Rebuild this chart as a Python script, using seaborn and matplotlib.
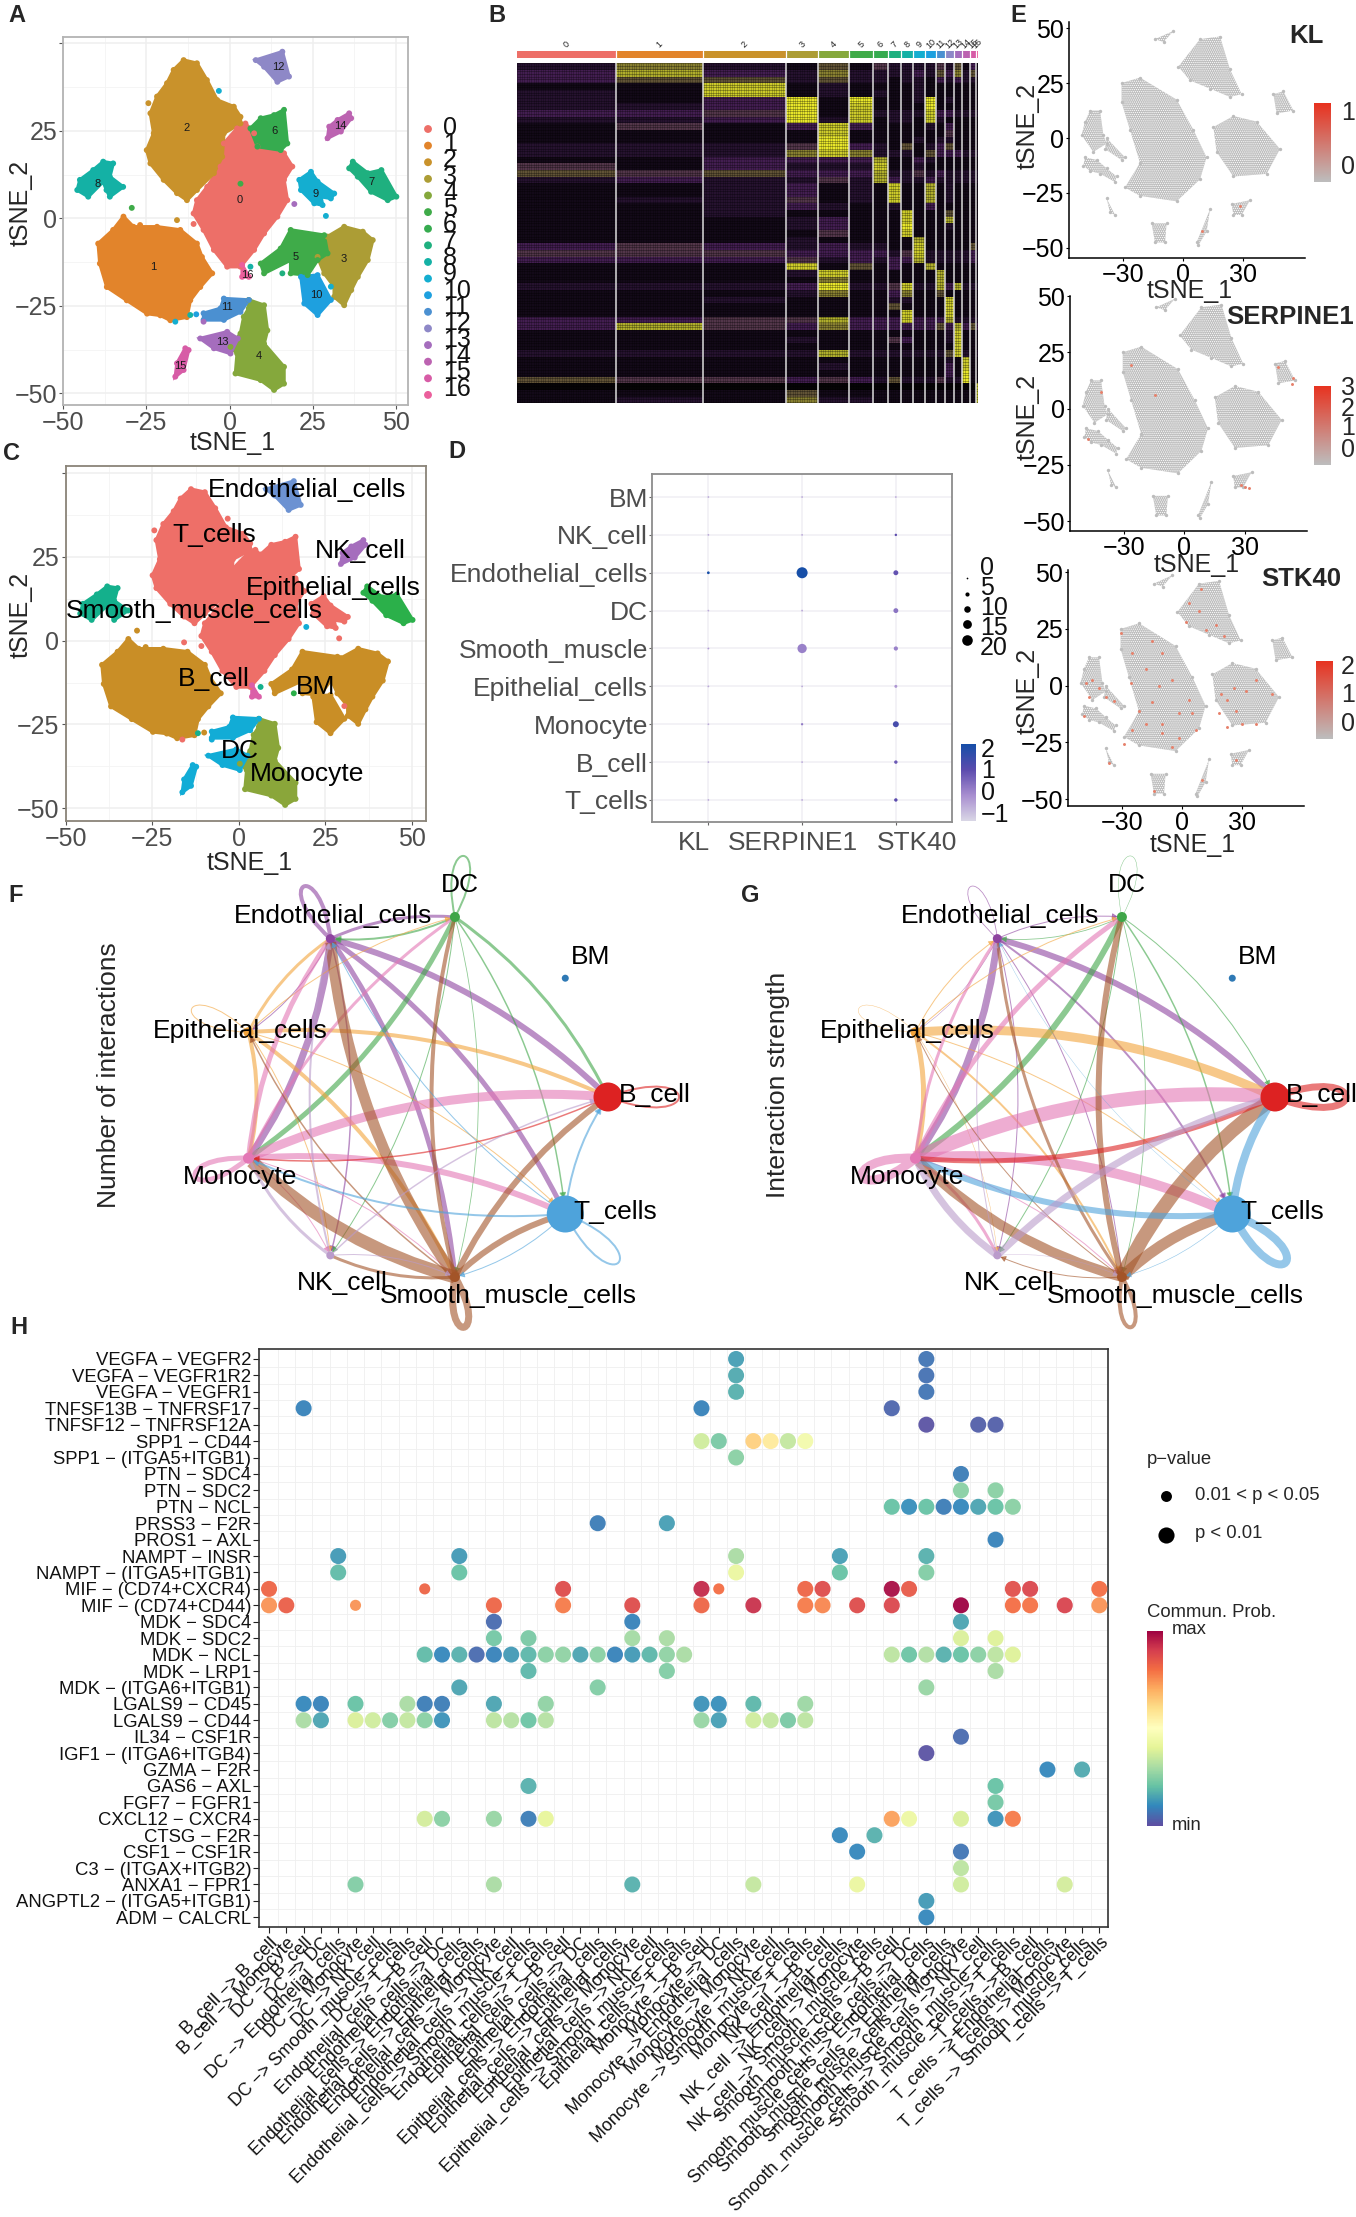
import numpy as np
import pandas as pd
import matplotlib
matplotlib.use('Agg')
import matplotlib.pyplot as plt
import seaborn as sns
from matplotlib.colors import LinearSegmentedColormap, ListedColormap
from matplotlib.patches import FancyArrowPatch, PathPatch
from matplotlib.path import Path

sns.set_style('white')
plt.rcParams['font.family'] = ['Liberation Sans', 'DejaVu Sans']
plt.rcParams['hatch.linewidth'] = 0.6

W, H = 1356, 2217

# --- tSNE outlines of the clusters, panels A and C ---
c0_x = [4.8, 7.4, 8.4, 16.4, 18.9, 16.4, 17.4, 14.4, 10.4, 7.4, 3.3, -0.7, -4.7, -7.8, -10.8, -9.8, -6.7, -2.7, -1.7, 2.3]
c0_y = [27.1, 24.3, 20.5, 18.6, 14.8, 11, 5.2, 0.5, -4.3, -9, -13.8, -13.8, -9, -3.3, 1.4, 5.2, 9, 14.8, 21.4, 25.7]
c1_x = [-31.9, -28.9, -21.8, -14.8, -9.8, -8.3, -5.2, -8.8, -11.8, -12.8, -17.8, -20.8, -24.8, -30.9, -36.9, -39, -39.5, -35]
c1_y = [0.5, -2.4, -2.4, -3.3, -7.2, -11, -15.7, -19.6, -23.4, -28.2, -29.1, -27.7, -27.2, -23.4, -19.6, -12.9, -7.2, -3.3]
c2_x = [-13.8, -9.8, -6.8, -3.7, 1.3, 3.3, 3.3, -1.7, -2.2, -4.7, -9.8, -12.8, -15.8, -19.8, -23.8, -24.9, -22.8, -23.8, -21.8, -18.8, -16.8]
c2_y = [45.2, 44.3, 39.5, 33.8, 31.9, 29, 27.1, 24.3, 17.6, 12.9, 8.1, 5.2, 7.2, 11, 15.7, 19.5, 24.3, 30, 34.8, 38.6, 42.4]
c3_x = [34.5, 40.1, 43.1, 41.6, 38.6, 36.6, 34.5, 31.5, 31.5, 28.5, 26.5, 29.5]
c3_y = [-2.4, -3.8, -6.2, -11.9, -16.7, -20.5, -24.8, -22.4, -19.5, -15.7, -11, -5.2]
c4_x = [5.8, 10.4, 11.4, 10.4, 16.4, 16.4, 13.4, 9.4, 1.8, 2.3, 0.3, 3.3, 4.3, 5.8]
c4_y = [-23.3, -24.8, -32, -35.8, -42.4, -47.2, -49, -46.2, -44.3, -38.6, -36.7, -32.9, -28.1, -25.7]
c5_x = [18.4, 28.5, 29.5, 26.5, 23.5, 18.4, 18.4, 10.4, 9.4, 15.4]
c5_y = [-3.3, -4.8, -10, -11.9, -16.2, -15.7, -11.9, -15.7, -12.9, -8.6]
c6_x = [16.4, 17.4, 15.4, 8.4, 6.3, 9.4, 13.4]
c6_y = [31, 21.4, 19.5, 20.5, 25.7, 28.6, 29.5]
c7_x = [37.1, 41.6, 45.7, 50.2, 47.6, 42.6, 38.6, 36]
c7_y = [16.2, 12.9, 13.8, 6.2, 5.2, 7.6, 11.9, 14.3]
c8_x = [-38, -35, -36, -32, -36, -37, -38, -42.5, -45.8, -45, -41]
c8_y = [16.2, 15.7, 11.9, 9, 6.2, 8.1, 10.5, 6.2, 8.1, 11, 13.8]
c9_x = [24.5, 26.5, 31.5, 30.5, 27.5, 28, 25.5, 21.5, 21]
c9_y = [13.3, 10.5, 7.1, 5.7, 6.2, 3.8, 4.3, 8.1, 11]
c10_x = [21.5, 26.5, 30.5, 26.5, 22.5]
c10_y = [-16.7, -16.2, -23.3, -27.6, -24.3]
c11_x = [-1.7, 5.8, 3.3, -1.7, -7.8, -7.8, -2.7]
c11_y = [-22.9, -23.3, -26.7, -29, -29, -27.1, -25.7]
c12_x = [7.9, 15.9, 17.9, 14.4, 10.4]
c12_y = [45.2, 47.6, 40.5, 39, 43.3]
c13_x = [-8.8, -0.7, 2.5, 0.3, -4.7]
c13_y = [-34.3, -32.4, -34.3, -38.6, -37.1]
c14_x = [36, 36.6, 33.5, 29.5, 30, 32.5]
c14_y = [30, 28.6, 24.8, 22.9, 26.2, 28.1]
c15_x = [-13.3, -12.3, -13.8, -16.3, -15.8]
c15_y = [-37.1, -37.6, -43.3, -45.2, -41.4]
c16_x = [3.8, 5.8, 3.8]
c16_y = [-13.3, -16.7, -16.7]

cluster_x = [c0_x, c1_x, c2_x, c3_x, c4_x, c5_x, c6_x, c7_x, c8_x, c9_x, c10_x, c11_x, c12_x, c13_x, c14_x, c15_x, c16_x]
cluster_y = [c0_y, c1_y, c2_y, c3_y, c4_y, c5_y, c6_y, c7_y, c8_y, c9_y, c10_y, c11_y, c12_y, c13_y, c14_y, c15_y, c16_y]

# stray cells
stray_x = [-29.4, 3.3, 19.5, -3.2, -24.4, 29, -15.8, -26.9, -10.8, -16.3, -11.8, -10, -7.8, 15.9, 6.3, 30.5]
stray_y = [3, 9.9, 4.1, 36.4, 32.9, 0.7, -0.5, -1.9, -1.6, -29.5, -27.6, -27.4, -29.5, -15.7, -13.8, -19.5]
stray_cluster = [5, 5, 13, 9, 2, 9, 2, 1, 0, 9, 8, 10, 13, 7, 8, 9]

cluster_label_x = [3.2, -23, -13, 34.3, 8.7, 20, 13.6, 42.8, -39.8, 26, 26, -0.7, 14.6, -2.2, 33.3, -14.8, 5.5]
cluster_label_y = [5.2, -13.8, 25.7, -11.7, -39.3, -11, 25, 10.5, 9.7, 7.1, -21.9, -25.2, 43.3, -35.2, 26.4, -42.2, -16.2]

cluster_hues = ['#ED6F68', '#E2842B', '#C9922B', '#AC9D35', '#85A83C', '#3FAB49', '#36AB4F', '#1FB07F', '#14B1A5',
                '#14AED0', '#1EA0DF', '#4B90D1', '#8E88C7', '#A56DBD', '#BC63B1', '#D75CA6', '#EB5F9C']

# panel C: colour of each cluster once it is annotated
celltype_hues = ['#EE6F68', '#C98E26', '#EE6F68', '#C98E26', '#8AA63A', '#C98E26', '#EE6F68', '#2BB04A', '#14B08C',
                 '#EE6F68', '#C98E26', '#12ACD6', '#6C92D2', '#12ACD6', '#A56DBD', '#12ACD6', '#DB5FA8']
celltype_labels = ['Endothelial_cells', 'T_cells', 'NK_cell', 'Epithelial_cells', 'Smooth_muscle_cells',
                   'B_cell', 'BM', 'DC', 'Monocyte']
celltype_label_x = [19.7, -7.1, 35, 27.2, -12.9, -7.1, 22.3, 0.3, 19.7]
celltype_label_y = [45, 31.5, 26.9, 15.6, 9, -11.4, -13.8, -32.9, -39.8]

# --- panel B, marker gene heatmap: one string per block of rows, one digit per cluster ---
cluster_cells = [296, 262, 248, 97, 92, 73, 45, 39, 36, 36, 32, 27, 28, 24, 23, 17, 6]
heat_rows = [
    '26215142222425131', '37326222232536252', '35525221221323221', '11812111121111111', '21812121121111111',
    '21391911129121111', '22391811119111111', '33491822228332222', '22392812218211111', '14138311112131111',
    '11118111111141111', '11119111121221111', '22249321512351111', '22268622215333222', '11333371132111111',
    '41322281121111111', '54533372242322222', '23224273223222222', '11231218117121111', '11231218117121111',
    '12241218117121111', '11232112113111111', '11211111811151111', '11123111811171111', '11123111911121111',
    '11114111811111111', '11121111171111111', '34323221181111151', '44433332482222232', '33342323372222232',
    '11181513117111111', '11128111111711111', '11116111111711111', '22239224822737222', '11126113611511111',
    '11211112211181111', '11111115111181111', '11111111811181111', '33447333833372222', '37436333333537353',
    '11111111111128111', '11121114311128111', '11111111111118111', '22227222222258212', '11111111111121811',
    '11112111111131811', '11111111111131911', '54434325222422911', '00000000000000008', '11151111111111118',
    '12162211111111118',
]
heat_cmap = LinearSegmentedColormap.from_list(
    'heat', [(0, '#060406'), (0.12, '#14091a'), (0.24, '#2a1433'), (0.36, '#4a2159'),
             (0.55, '#5f5036'), (0.78, '#b0ae2c'), (1, '#e9e72a')])

# --- panel D, dot plot ---
dot_genes = ['KL', 'SERPINE1', 'STK40']
dot_types = ['T_cells', 'B_cell', 'Monocyte', 'Epithelial_cells', 'Smooth_muscle', 'DC', 'Endothelial_cells', 'NK_cell', 'BM']
dot_pct = {
    'KL': [0.05, 0.05, 0.05, 0.1, 0.1, 0.05, 0.8, 0.05, 0.05],
    'SERPINE1': [0.05, 0.05, 0.4, 0.05, 14, 0.1, 20, 0.05, 0.05],
    'STK40': [1.5, 1.5, 5.5, 1, 2.5, 3.5, 3.6, 0.5, 0.05],
}
dot_avg = {
    'KL': [-0.4, -0.4, -0.4, -0.4, -0.2, -0.4, 2, -0.4, -0.4],
    'SERPINE1': [-0.4, -0.4, 0.3, -0.4, 0.2, -0.4, 2, -0.4, -0.4],
    'STK40': [1.0, 0.8, 1.3, -0.1, 0.2, 0.4, 0.9, 1.0, -0.4],
}

# --- panel E, feature plots share one embedding ---
e_top_x = [-2.3, 8.5, 18.5, 23.5, 29.3, 23.5, 13.5, 3.5]
e_top_y = [32.5, 45, 46.2, 31.2, 20, 18.7, 22.5, 26.2]
e_mid_x = [-30.7, -21.5, -3.2, 5.2, 11.8, 8.5, -3.2, -21.5, -29, -21.5, -26.5, -30.7]
e_mid_y = [25, 27.5, 17.5, 3.7, -8.8, -18.8, -28.8, -26.3, -22.5, -11.3, 3.7, 16.2]
e_right_x = [15.2, 25.2, 36.8, 48.5, 41.8, 25.2, 16.8]
e_right_y = [5, 10, 7.5, -5, -16.3, -17.5, -6.3]
e_upper_x = [-46.5, -41.5, -39.8, -38.2, -44.8, -50.7, -49]
e_upper_y = [12.5, 12.5, 1.3, -2.5, -6.3, 1.3, 7.5]
e_tail_x = [-38.2, -29, -30.7, -39]
e_tail_y = [0, -8.8, -10, -5]
e_lower_x = [-49, -43, -38.2, -33.2, -34, -41.5, -46.5, -49.8]
e_lower_y = [-8.8, -10, -13.8, -17.5, -20, -16.2, -15, -12.5]
e_a_x = [-14, -4.8, -9.7]
e_a_y = [45, 48.7, 43.7]
e_b_x = [45.2, 50.2, 55.2, 46.8]
e_b_y = [20, 21.2, 12.5, 11.2]
e_c_x = [24.3, 33.5, 29.3, 25.2]
e_c_y = [-30, -28.3, -35, -35]
e_d_x = [6.8, 13.5, 11.8, 7.7]
e_d_y = [-47.5, -32.5, -42.5, -48.8]
e_e_x = [-15.7, -8.2, -9, -14]
e_e_y = [-38.8, -38.8, -47.5, -47.5]
e_f_x = [-38.2, -34, -36.5]
e_f_y = [-27.5, -35, -33.8]
cloud_x = [e_top_x, e_mid_x, e_right_x, e_upper_x, e_tail_x, e_lower_x, e_a_x, e_b_x, e_c_x, e_d_x, e_e_x, e_f_x]
cloud_y = [e_top_y, e_mid_y, e_right_y, e_upper_y, e_tail_y, e_lower_y, e_a_y, e_b_y, e_c_y, e_d_y, e_e_y, e_f_y]

kl_hits_x = [28.5, 9.3]
kl_hits_y = [-30.8, -42.5]
serpine_hits_x = [28, 30, 32, 46.8, 54, 53.8, -41.5, -26.5, -14.8, -48]
serpine_hits_y = [-34, -35, -35.4, 18.3, 13.4, 11, 7.3, 19.5, 6.1, -13.4]
stk_hits_x = [-48.2, -44.8, -41.5, -38.2, -34, -49, -46.5, -30.7, -24.8, -14.8, -9.8, -18.2, -25.7, -4.8, -11.5, -14.8,
              -21.5, -1.5, 5.2, -18.2, -9.8, -1.5, 6.8, -24.8, -29, -4.8, -9.8, 3.5, 3.5, 9.3, 1.8, 11.8, 16.8, 8.5, 21,
              19.3, 22.7, 26, 31.8, 36.8, 22.7, 30.2, 36.8, 45.2, 18.5, 26.8, 26.8, -36.5, -14, 10.2]
stk_hits_y = [1.2, 2.4, -1.2, -4.9, -6.8, -13.4, -4.9, 23.2, 14.6, 19.5, 14.6, 7.3, 1.2, 2.4, 0, -7.3,
              -11, -12.2, -12.2, -17, -20.7, -23.2, -19.5, -19.5, -25.6, -26.8, -17, -6.1, 36.6, 42.7, 28, 24.4, 26.8, 32.9, 22,
              -3.7, -6.1, -1.2, -2.4, 2.4, -18.3, -17, -17, -3.7, -12.2, -11, -32.9, -34.1, -46.3, -41.5]

# --- panels F and G, circle networks ---
node_names = ['B_cell', 'BM', 'DC', 'Endothelial_cells', 'Epithelial_cells', 'Monocyte', 'NK_cell', 'Smooth_muscle_cells', 'T_cells']
node_x = [1.0, 0.76, 0.14, -0.56, -1.02, -1.02, -0.56, 0.14, 0.76]
node_y = [0, 0.66, 1.0, 0.88, 0.36, -0.34, -0.88, -1.0, -0.65]
node_colors = ['#DD2222', '#2E79B5', '#3FA648', '#8E44A0', '#F3A43B', '#E377B5', '#BA9BCB', '#A35428', '#4EA3DB']
node_sizes = [29, 7, 10, 9, 10, 11, 8, 10, 37]
node_label_x = [1.265, 0.90, 0.168, -0.543, -1.068, -1.065, -0.495, 0.44, 1.043]
node_label_y = [0.012, 0.775, 1.175, 1.008, 0.365, -0.447, -1.035, -1.105, -0.637]

edges_number = [
    ('Endothelial_cells', 'Monocyte', 7), ('Endothelial_cells', 'B_cell', 6), ('Endothelial_cells', 'T_cells', 5),
    ('Endothelial_cells', 'Smooth_muscle_cells', 5), ('Endothelial_cells', 'DC', 3), ('Endothelial_cells', 'Epithelial_cells', 1),
    ('Endothelial_cells', 'NK_cell', 1.5),
    ('DC', 'Endothelial_cells', 2), ('DC', 'Monocyte', 5), ('DC', 'B_cell', 3), ('DC', 'T_cells', 1.5),
    ('DC', 'Smooth_muscle_cells', 0.8), ('DC', 'NK_cell', 1),
    ('Epithelial_cells', 'Endothelial_cells', 3), ('Epithelial_cells', 'B_cell', 4), ('Epithelial_cells', 'Monocyte', 4),
    ('Epithelial_cells', 'Smooth_muscle_cells', 4), ('Epithelial_cells', 'T_cells', 1), ('Epithelial_cells', 'DC', 1),
    ('Epithelial_cells', 'NK_cell', 1),
    ('Monocyte', 'Endothelial_cells', 5), ('Monocyte', 'DC', 3), ('Monocyte', 'B_cell', 9), ('Monocyte', 'T_cells', 6),
    ('Monocyte', 'Smooth_muscle_cells', 1), ('Monocyte', 'NK_cell', 1),
    ('Smooth_muscle_cells', 'Monocyte', 13), ('Smooth_muscle_cells', 'Endothelial_cells', 11), ('Smooth_muscle_cells', 'DC', 4),
    ('Smooth_muscle_cells', 'B_cell', 6), ('Smooth_muscle_cells', 'T_cells', 6), ('Smooth_muscle_cells', 'NK_cell', 3),
    ('Smooth_muscle_cells', 'Epithelial_cells', 1.5),
    ('T_cells', 'Monocyte', 2), ('T_cells', 'B_cell', 2), ('T_cells', 'Smooth_muscle_cells', 1), ('T_cells', 'Endothelial_cells', 1),
    ('B_cell', 'Monocyte', 1.5),
    ('NK_cell', 'Monocyte', 3), ('NK_cell', 'B_cell', 1.5), ('NK_cell', 'Endothelial_cells', 2), ('NK_cell', 'Smooth_muscle_cells', 1),
]
loops_number = {'Endothelial_cells': 4, 'DC': 2, 'Epithelial_cells': 1, 'Monocyte': 5, 'Smooth_muscle_cells': 7, 'T_cells': 2, 'B_cell': 2}

edges_strength = [
    ('Endothelial_cells', 'Monocyte', 7), ('Endothelial_cells', 'B_cell', 6), ('Endothelial_cells', 'T_cells', 2),
    ('Endothelial_cells', 'Smooth_muscle_cells', 1), ('Endothelial_cells', 'DC', 1), ('Endothelial_cells', 'Epithelial_cells', 0.5),
    ('Endothelial_cells', 'NK_cell', 1),
    ('DC', 'Endothelial_cells', 0.8), ('DC', 'Monocyte', 6), ('DC', 'B_cell', 1), ('DC', 'T_cells', 1.5),
    ('DC', 'Smooth_muscle_cells', 0.8), ('DC', 'NK_cell', 1),
    ('Epithelial_cells', 'Endothelial_cells', 1), ('Epithelial_cells', 'B_cell', 9), ('Epithelial_cells', 'Monocyte', 5),
    ('Epithelial_cells', 'Smooth_muscle_cells', 2), ('Epithelial_cells', 'T_cells', 1), ('Epithelial_cells', 'DC', 1),
    ('Epithelial_cells', 'NK_cell', 0.5),
    ('Monocyte', 'Endothelial_cells', 3), ('Monocyte', 'DC', 5), ('Monocyte', 'B_cell', 14), ('Monocyte', 'T_cells', 10),
    ('Monocyte', 'Smooth_muscle_cells', 1), ('Monocyte', 'NK_cell', 3),
    ('Smooth_muscle_cells', 'Monocyte', 10), ('Smooth_muscle_cells', 'Endothelial_cells', 3), ('Smooth_muscle_cells', 'DC', 6),
    ('Smooth_muscle_cells', 'B_cell', 14), ('Smooth_muscle_cells', 'T_cells', 11), ('Smooth_muscle_cells', 'NK_cell', 1),
    ('Smooth_muscle_cells', 'Epithelial_cells', 1),
    ('T_cells', 'Monocyte', 6), ('T_cells', 'B_cell', 8), ('T_cells', 'Smooth_muscle_cells', 0.6), ('T_cells', 'Endothelial_cells', 0.4),
    ('B_cell', 'Monocyte', 5),
    ('NK_cell', 'Monocyte', 7), ('NK_cell', 'B_cell', 7), ('NK_cell', 'Endothelial_cells', 1), ('NK_cell', 'Smooth_muscle_cells', 0.5),
]
loops_strength = {'Endothelial_cells': 0.8, 'DC': 0.5, 'Epithelial_cells': 0.5, 'Monocyte': 9, 'Smooth_muscle_cells': 4, 'T_cells': 8, 'B_cell': 7}
loop_reach = {'Endothelial_cells': (-0.15, 0.29), 'DC': (0.05, 0.34), 'Epithelial_cells': (-0.32, 0.13), 'Monocyte': (-0.3, -0.1),
              'Smooth_muscle_cells': (0.05, -0.28), 'T_cells': (0.3, -0.27), 'B_cell': (0.4, 0)}

# --- panel H, ligand-receptor bubble plot ---
lr_pairs = ['VEGFA − VEGFR2', 'VEGFA − VEGFR1R2', 'VEGFA − VEGFR1', 'TNFSF13B − TNFRSF17', 'TNFSF12 − TNFRSF12A',
            'SPP1 − CD44', 'SPP1 − (ITGA5+ITGB1)', 'PTN − SDC4', 'PTN − SDC2', 'PTN − NCL', 'PRSS3 − F2R', 'PROS1 − AXL',
            'NAMPT − INSR', 'NAMPT − (ITGA5+ITGB1)', 'MIF − (CD74+CXCR4)', 'MIF − (CD74+CD44)', 'MDK − SDC4', 'MDK − SDC2',
            'MDK − NCL', 'MDK − LRP1', 'MDK − (ITGA6+ITGB1)', 'LGALS9 − CD45', 'LGALS9 − CD44', 'IL34 − CSF1R',
            'IGF1 − (ITGA6+ITGB4)', 'GZMA − F2R', 'GAS6 − AXL', 'FGF7 − FGFR1', 'CXCL12 − CXCR4', 'CTSG − F2R',
            'CSF1 − CSF1R', 'C3 − (ITGAX+ITGB2)', 'ANXA1 − FPR1', 'ANGPTL2 − (ITGA5+ITGB1)', 'ADM − CALCRL']
sm = 'Smooth_muscle_cells'
en = 'Endothelial_cells'
ep = 'Epithelial_cells'
pair_sources = ['B_cell'] * 2 + ['DC'] * 7 + [en] * 8 + [ep] * 8 + ['Monocyte'] * 7 + ['NK_cell'] * 4 + [sm] * 8 + ['T_cells'] * 5
pair_targets = ['B_cell', 'Monocyte',
                'B_cell', 'DC', en, 'Monocyte', 'NK_cell', sm, 'T_cells',
                'B_cell', 'DC', en, ep, 'Monocyte', 'NK_cell', sm, 'T_cells',
                'B_cell', 'DC', en, ep, 'Monocyte', 'NK_cell', sm, 'T_cells',
                'B_cell', 'DC', en, 'Monocyte', 'NK_cell', sm, 'T_cells',
                'B_cell', en, 'Monocyte', sm,
                'B_cell', 'DC', en, ep, 'Monocyte', 'NK_cell', sm, 'T_cells',
                'B_cell', en, 'Monocyte', sm, 'T_cells']

bubble_cols = {
    0: [27, 38], 1: [27, 38], 2: [27, 38], 3: [2, 25, 36], 4: [38, 41, 42], 5: [25, 26, 28, 29, 30, 31], 6: [27], 7: [40],
    8: [40, 42], 9: [36, 37, 38, 39, 40, 41, 42, 43], 10: [19, 23], 11: [42], 12: [4, 11, 27, 33, 38], 13: [4, 11, 27, 33, 38],
    14: [0, 9, 17, 25, 26, 31, 32, 36, 37, 43, 44, 48],
    15: [0, 1, 5, 13, 17, 21, 25, 28, 31, 32, 34, 36, 40, 43, 44, 46, 48],
    16: [13, 21, 40], 17: [13, 15, 21, 23, 40, 42],
    18: [9, 10, 11, 12, 13, 14, 15, 16, 17, 18, 19, 20, 21, 22, 23, 24, 36, 37, 38, 39, 40, 41, 42, 43],
    19: [15, 23, 42], 20: [11, 19, 38], 21: [2, 3, 5, 8, 9, 10, 13, 16, 25, 26, 28, 31],
    22: [2, 3, 5, 6, 7, 8, 9, 10, 13, 14, 15, 16, 25, 26, 28, 29, 30, 31],
    23: [40], 24: [38], 25: [45, 47], 26: [15, 42], 27: [42], 28: [9, 10, 13, 15, 16, 36, 37, 40, 42, 43], 29: [33, 35],
    30: [34, 40], 31: [40], 32: [5, 13, 21, 28, 34, 40, 46], 33: [38], 34: [38],
}
bubble_probs = {
    0: [0.14, 0.07], 1: [0.16, 0.06], 2: [0.17, 0.07], 3: [0.09, 0.09, 0.04], 4: [0.01, 0.03, 0.03],
    5: [0.36, 0.23, 0.63, 0.57, 0.34, 0.45], 6: [0.25], 7: [0.08], 8: [0.25, 0.25],
    9: [0.2, 0.11, 0.2, 0.08, 0.1, 0.15, 0.2, 0.25], 10: [0.08, 0.14], 11: [0.09], 12: [0.13, 0.13, 0.3, 0.14, 0.17],
    13: [0.19, 0.2, 0.42, 0.2, 0.24],
    14: [0.82, 0.82, 0.87, 0.93, 0.8, 0.82, 0.87, 0.98, 0.84, 0.86, 0.88, 0.8],
    15: [0.74, 0.83, 0.74, 0.82, 0.78, 0.87, 0.82, 0.92, 0.78, 0.76, 0.87, 0.88, 1.0, 0.8, 0.79, 0.89, 0.74],
    16: [0.05, 0.09, 0.15], 17: [0.22, 0.23, 0.29, 0.3, 0.38, 0.39],
    18: [0.19, 0.1, 0.17, 0.05, 0.09, 0.13, 0.18, 0.25, 0.26, 0.15, 0.25, 0.09, 0.13, 0.18, 0.26, 0.3, 0.33, 0.21, 0.31,
         0.17, 0.2, 0.25, 0.33, 0.39],
    19: [0.18, 0.24, 0.3], 20: [0.15, 0.24, 0.27], 21: [0.1, 0.09, 0.2, 0.3, 0.08, 0.08, 0.15, 0.26, 0.12, 0.11, 0.18, 0.28],
    22: [0.3, 0.15, 0.38, 0.36, 0.24, 0.34, 0.25, 0.12, 0.33, 0.32, 0.21, 0.32, 0.27, 0.14, 0.36, 0.34, 0.23, 0.33],
    23: [0.05], 24: [0.01], 25: [0.1, 0.16], 26: [0.17, 0.2], 27: [0.22],
    28: [0.37, 0.25, 0.27, 0.08, 0.41, 0.72, 0.43, 0.38, 0.12, 0.78], 29: [0.1, 0.17], 30: [0.1, 0.07], 31: [0.33],
    32: [0.24, 0.3, 0.17, 0.34, 0.42, 0.36, 0.37], 33: [0.13], 34: [0.1],
}
weak_bubbles = [(14, 9), (14, 26), (15, 5)]

# --- figure and helpers ---
fig = plt.figure(figsize=(W / 100, H / 100), dpi=100)


def add_ax(left, top, right, bottom):
    ax = fig.add_axes([left / W, 1 - bottom / H, (right - left) / W, (bottom - top) / H])
    ax.patch.set_alpha(0)
    return ax


overlay = add_ax(0, 0, W, H)
overlay.set_xlim(0, W)
overlay.set_ylim(H, 0)
overlay.axis('off')
overlay.set_zorder(20)


def put(x, y, s, size=18, **kw):
    kw.setdefault('ha', 'center')
    kw.setdefault('va', 'center')
    overlay.text(x, y, s, fontsize=size, **kw)


def bw_frame(ax, xlim, ylim, xticks, yticks, edge='#b3b3b3'):
    ax.set_xlim(xlim)
    ax.set_ylim(ylim)
    ax.set_xticks(xticks)
    ax.set_yticks(yticks)
    ax.set_xlabel('')
    ax.set_ylabel('')
    ax.grid(True, color='#efefef', lw=1.1)
    ax.set_axisbelow(True)
    for spine in ax.spines.values():
        spine.set_color(edge)
        spine.set_linewidth(1.3)


def tsne_panel(ax, hues, size):
    for i in range(17):
        ax.fill(cluster_x[i], cluster_y[i], color=hues[i], lw=2.5, zorder=2)
    rows = []
    for i in range(17):
        rows += [(a, b, i) for a, b in zip(cluster_x[i], cluster_y[i])]
    rows += list(zip(stray_x, stray_y, stray_cluster))
    table = pd.DataFrame(rows, columns=['x', 'y', 'cluster'])
    sns.scatterplot(data=table, x='x', y='y', hue='cluster', palette=dict(enumerate(hues)), s=size,
                    linewidth=0, legend=False, ax=ax, zorder=3)
    for val in [-37.5, -12.5, 12.5, 37.5]:
        ax.axvline(val, color='#f4f4f4', lw=0.6, zorder=0)
        ax.axhline(val, color='#f4f4f4', lw=0.6, zorder=0)


# --- A ---
ax = add_ax(63.3, 37, 408, 405)
tsne_panel(ax, cluster_hues, 18)
bw_frame(ax, (-50, 53.7), (-53.3, 51.8), [-50, -25, 0, 25, 50], [-50, -25, 0, 25, 50])
ax.set_yticklabels(['−50', '−25', '0', '25', ''])
ax.set_xticklabels(['−50', '−25', '0', '25', '50'])
ax.tick_params(labelsize=18, labelcolor='#4d4d4d', color='#555555', length=3, width=0.8, bottom=True, left=True, pad=1.5)
for i in range(17):
    ax.text(cluster_label_x[i], cluster_label_y[i], str(i), fontsize=8, ha='center', va='center', color='#1a1a1a', zorder=5)
put(233, 443, 'tSNE_1')
put(20.7, 203, 'tSNE_2', rotation=90)
overlay.scatter([428] * 17, [129 + 16.62 * i for i in range(17)], c=cluster_hues, s=32, linewidths=0)
for i in range(17):
    put(443, 127.7 + 16.3 * i, str(i), ha='left', color='#111111')

# --- B ---
values = np.array([[int(ch) for ch in row] for row in heat_rows])
values = np.repeat(values, cluster_cells, axis=1)
ax = add_ax(517.3, 63.3, 977.7, 403.3)
sns.heatmap(values, cmap=heat_cmap, vmin=0, vmax=9, cbar=False, xticklabels=False, yticklabels=False, ax=ax)
edges = np.cumsum(cluster_cells)
# fine rows and cells show as thin dark stripes
ax.hlines(np.arange(0, len(heat_rows), 0.4), 0, edges[-1], color='black', lw=0.6, alpha=0.35)
ax.vlines(np.arange(0, edges[-1], 7), 0, len(heat_rows), color='black', lw=0.7, alpha=0.22)
for edge in edges[:-1]:
    ax.axvline(edge, color='#dcdcdc', lw=1.1)
ax_bar = add_ax(517.3, 51, 977.7, 58.3)
ids = np.repeat(np.arange(17)[None, :], cluster_cells, axis=1)
sns.heatmap(ids, cmap=ListedColormap(cluster_hues), cbar=False, xticklabels=False, yticklabels=False, ax=ax_bar)
for edge in edges[:-1]:
    ax_bar.axvline(edge, color='white', lw=0.9)
left_edges = np.concatenate([[0], edges[:-1]])
for i in range(17):
    mid = 517.3 + (left_edges[i] + cluster_cells[i] / 2) / edges[-1] * 460.4
    put(mid, 44, str(i), size=6.5, rotation=45, color='#222222')

# --- C ---
ax = add_ax(65.7, 465.7, 425.7, 820.7)
tsne_panel(ax, celltype_hues, 18)
bw_frame(ax, (-50, 54), (-53.7, 52.2), [-50, -25, 0, 25, 50], [-50, -25, 0, 25, 50], edge='#8a8478')
ax.set_yticklabels(['−50', '−25', '0', '25', ''])
ax.set_xticklabels(['−50', '−25', '0', '25', '50'])
ax.tick_params(labelsize=18, labelcolor='#4d4d4d', color='#555555', length=3, width=0.8, bottom=True, left=True, pad=1.5)
for name, lx, ly in zip(celltype_labels, celltype_label_x, celltype_label_y):
    ax.text(lx, ly, name, fontsize=19, ha='center', va='center', color='black', zorder=6)
put(250, 863, 'tSNE_1')
put(20.7, 615, 'tSNE_2', rotation=90)

# --- D ---
dot_table = pd.DataFrame({
    'gene': np.repeat(np.arange(3), 9),
    'cell': np.tile(np.arange(9), 3),
    'pct': sum((dot_pct[g] for g in dot_genes), []),
    'avg': sum((dot_avg[g] for g in dot_genes), []),
})
dot_cmap = LinearSegmentedColormap.from_list('dots', ['#d9d6e6', '#a88ed0', '#5c4cae', '#174fa8'])
ax = add_ax(652.1, 474.3, 952.1, 822.3)
sns.scatterplot(data=dot_table, x='gene', y='cell', hue='avg', hue_norm=(-1, 2), palette=dot_cmap, size='pct',
                size_norm=(0, 20), sizes=(1.5, 63), linewidth=0, legend=False, ax=ax, zorder=3)
bw_frame(ax, (-0.6, 2.6), (-0.59, 8.6), [0, 1, 2], range(9), edge='#8c8c8c')
ax.grid(True, color='#f1f0f5', lw=1.2)
ax.set_yticklabels(dot_types, va='center_baseline')
ax.set_xticklabels([])
ax.tick_params(axis='y', labelsize=19, labelcolor='#4d4d4d', color='#666666', length=2, width=0.8, left=True, pad=1)
ax.tick_params(axis='x', color='#666666', length=2, width=0.8, bottom=True)
for lbl, gx in zip(dot_genes, [694, 792.5, 917.5]):
    put(gx, 843, lbl, size=19, color='#4d4d4d')
for lbl, ly, dy, dsize in zip(['0', '5', '10', '15', '20'], [568, 588, 608, 628, 648], [578, 593.7, 609, 624, 640], [1.5, 9, 22, 40, 58]):
    overlay.scatter([966.8], [dy], c='black', s=dsize, linewidths=0)
    put(980, ly, lbl, ha='left', color='#111111')
ax_cb = add_ax(961.4, 744.3, 976.4, 820.7)
ax_cb.imshow(np.linspace(1, 0, 100)[:, None], cmap=dot_cmap, aspect='auto')
ax_cb.axis('off')
for lbl, ly in zip(['2', '1', '0', '−1'], [750, 771, 793, 815]):
    put(981, ly, lbl, ha='left', color='#111111')

# --- E ---
red_cmap = LinearSegmentedColormap.from_list('reds', ['#bdbdbd', '#e8321f'])
e_panels = [
    ('KL', 22, 257.8, 1069, 1305, (-54.5, 52.8), kl_hits_x, kl_hits_y, 36, 1306.7, 290.7, 126, 103, 182, 1314, ['1', '0'], [112.5, 167]),
    ('SERPINE1', 296, 531, 1070, 1306.7, (-54.4, 49.6), serpine_hits_x, serpine_hits_y, 317, 1290, 565, 417, 385.6, 465, 1314, ['3', '2', '1', '0'], [388, 409, 428, 450]),
    ('STK40', 570, 806, 1068, 1304, (-53, 51), stk_hits_x, stk_hits_y, 578.7, 1301.7, 845, 691, 661, 739.4, 1315.7, ['2', '1', '0'], [666.5, 695.5, 724]),
]
for title, top, bottom, left, right, ylim, hx, hy, ty, tx, xl_y, yl_y, cb_t, cb_b, cb_l, cb_txt, cb_y in e_panels:
    ax = add_ax(left, top, right, bottom)
    for cx, cy in zip(cloud_x, cloud_y):
        ax.fill(cx, cy, facecolor='#bdbdbd', edgecolor='white', hatch='........', lw=0, zorder=2)
    sns.scatterplot(x=sum(cloud_x, []), y=sum(cloud_y, []), color='#bdbdbd', s=6, linewidth=0, legend=False, ax=ax, zorder=3)
    sns.scatterplot(x=hx, y=hy, color='#e6806a', s=4.5, linewidth=0, legend=False, ax=ax, zorder=4)
    ax.set_xlim(-57, 61)
    ax.set_ylim(ylim)
    ax.set_xticks([-30, 0, 30])
    ax.set_xticklabels(['−30', '0', '30'])
    ax.set_yticks([-50, -25, 0, 25, 50])
    ax.set_yticklabels(['−50', '−25', '0', '25', '50'])
    ax.tick_params(labelsize=18, labelcolor='black', color='black', length=2.5, width=0.8, bottom=True, left=True, pad=1)
    sns.despine(ax=ax)
    for side in ['left', 'bottom']:
        ax.spines[side].set_color('black')
        ax.spines[side].set_linewidth(1.1)
    put(tx, ty, title, size=18.5, fontweight='bold')
    put((1190 if title == 'KL' else 1197 if title == 'SERPINE1' else 1193), xl_y, 'tSNE_1')
    put(1028, yl_y, 'tSNE_2', rotation=90)
    ax_cb = add_ax(cb_l, cb_t, cb_l + 16.5, cb_b)
    ax_cb.imshow(np.linspace(1, 0, 100)[:, None], cmap=red_cmap, aspect='auto')
    ax_cb.axis('off')
    for lbl, ly in zip(cb_txt, cb_y):
        put(1341, ly, lbl, ha='left')


# --- F, G ---
def draw_network(center_x, edges_list, loops, ylabel, ylabel_x, ylabel_y):
    ax = add_ax(center_x - 320, 1097 - 320, center_x + 320, 1097 + 320)
    ax.set_xlim(-320 / 178, 320 / 178)
    ax.set_ylim(-320 / 180, 320 / 180)
    ax.axis('off')
    where = {n: (a, b) for n, a, b in zip(node_names, node_x, node_y)}
    color = dict(zip(node_names, node_colors))
    size = dict(zip(node_names, node_sizes))
    for src, dst, width in edges_list:
        style = '-|>,head_length=0.35,head_width=0.2' if width < 3 else '-'
        arrow = FancyArrowPatch(where[src], where[dst], connectionstyle='arc3,rad=-0.13',
                                arrowstyle=style, mutation_scale=9,
                                lw=width * 0.72, color=color[src], alpha=0.6, capstyle='butt',
                                shrinkA=0, shrinkB=size[dst] * 0.3, zorder=2)
        ax.add_patch(arrow)
    for name, width in loops.items():
        nx, ny = where[name]
        dx, dy = loop_reach[name]
        px, py = -dy * 0.5, dx * 0.5
        verts = [(nx, ny), (nx + 1.33 * dx + px, ny + 1.33 * dy + py), (nx + 1.33 * dx - px, ny + 1.33 * dy - py), (nx, ny)]
        codes = [Path.MOVETO, Path.CURVE4, Path.CURVE4, Path.CURVE4]
        ax.add_patch(PathPatch(Path(verts, codes), fill=False, lw=width * 0.72, edgecolor=color[name], alpha=0.6, zorder=2))
    sns.scatterplot(x=node_x, y=node_y, hue=node_names, palette=color, size=node_names,
                    sizes={n: (d * 0.72) ** 2 for n, d in size.items()}, linewidth=0, legend=False, ax=ax, zorder=4)
    ax.set_xlim(-320 / 178, 320 / 178)
    ax.set_ylim(-320 / 180, 320 / 180)
    for name, lx, ly in zip(node_names, node_label_x, node_label_y):
        ax.text(lx, ly, name, fontsize=19, ha='center', va='center', color='black', zorder=6)
    put(ylabel_x, ylabel_y, ylabel, size=19, rotation=90)


draw_network(430, edges_number, loops_number, 'Number of interactions', 109, 1075)
draw_network(1097, edges_strength, loops_strength, 'Interaction strength', 778, 1085)

# --- H ---
rows = []
for r, cols in bubble_cols.items():
    for c, p in zip(cols, bubble_probs[r]):
        rows.append((c, r, p, 'weak' if (r, c) in weak_bubbles else 'strong'))
bubbles = pd.DataFrame(rows, columns=['col', 'row', 'prob', 'pval'])
ax = add_ax(259, 1349.3, 1108, 1926.7)
sns.scatterplot(data=bubbles, x='col', y='row', hue='prob', hue_norm=(0, 1), palette='Spectral_r', size='pval',
                sizes={'strong': 133, 'weak': 64}, linewidth=0, alpha=0.95, legend=False, ax=ax, zorder=3)
ax.set_xlim(-0.58, 48.5)
ax.set_ylim(34.57, -0.59)
ax.set_xticks(range(49))
ax.set_yticks(range(35))
ax.set_yticklabels(lr_pairs)
ax.set_xticklabels([f'{a} −> {b}' for a, b in zip(pair_sources, pair_targets)], rotation=45, ha='right', rotation_mode='anchor')
ax.set_xlabel('')
ax.set_ylabel('')
ax.tick_params(axis='y', labelsize=13.3, labelcolor='#111111', color='#222222', length=4, width=0.8, left=True, pad=1.5)
ax.tick_params(axis='x', labelsize=12.9, labelcolor='#111111', color='#222222', length=4, width=0.8, bottom=True, pad=1.5)
for val in np.arange(0.5, 48.5):
    ax.axvline(val, color='#efefef', lw=0.6, zorder=0)
for val in np.arange(0.5, 34.5):
    ax.axhline(val, color='#efefef', lw=0.6, zorder=0)
for spine in ax.spines.values():
    spine.set_color('#333333')
    spine.set_linewidth(1.2)

put(1146.7, 1459, 'p−value', size=13.3, ha='left')
overlay.scatter([1166], [1495.7], c='black', s=62, linewidths=0)
overlay.scatter([1166], [1535], c='black', s=135, linewidths=0)
put(1195, 1495, '0.01 < p < 0.05', size=13.3, ha='left')
put(1195, 1534, 'p < 0.01', size=13.3, ha='left')
put(1146.7, 1612.7, 'Commun. Prob.', size=13.3, ha='left')
ax_cb = add_ax(1146.7, 1630.7, 1162.7, 1826)
ax_cb.imshow(np.linspace(1, 0, 200)[:, None], cmap='Spectral_r', aspect='auto')
ax_cb.axis('off')
put(1172, 1630, 'max', size=13.3, ha='left')
put(1172, 1826, 'min', size=13.3, ha='left')

# --- panel letters ---
for letter, lx, ly in [('A', 17, 15), ('B', 497, 15), ('C', 11, 453), ('D', 457, 452), ('E', 1018, 15),
                       ('F', 15.6, 895), ('G', 750, 895), ('H', 19, 1327)]:
    put(lx, ly, letter, size=17, fontweight='bold')

fig.savefig('out.png', dpi=100)
